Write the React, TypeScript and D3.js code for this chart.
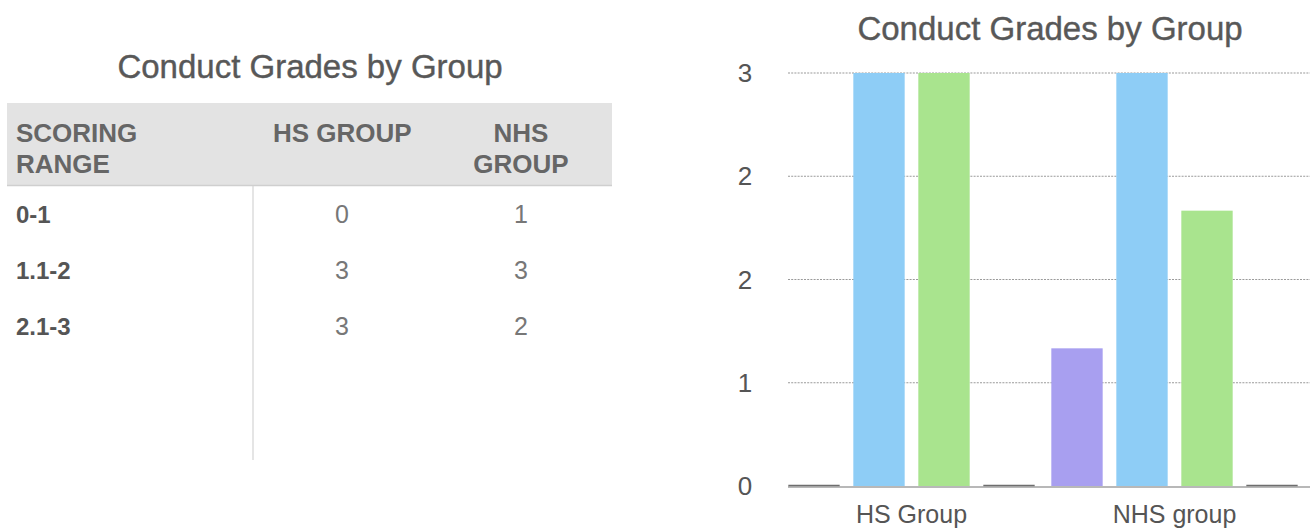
import React from "react";
import * as d3 from "d3";

const title = "Conduct Grades by Group";
const groups = ["HS Group", "NHS group"];
const seriesKeys = ["0-1", "1.1-2", "2.1-3", "blank"];
const hsValues = [0, 3, 3, 0];
const nhsValues = [1, 3, 2, 0];
const seriesColors = ["#a89ff0", "#8ecdf6", "#a9e48e", "#777777"];
const yTicks = [0, 0.75, 1.5, 2.25, 3];
const yTickLabels = ["0", "1", "2", "2", "3"];

const tableHeaders = [["SCORING", "RANGE"], ["HS GROUP"], ["NHS", "GROUP"]];
const tableRanges = ["0-1", "1.1-2", "2.1-3"];
const tableHS = [0, 3, 3];
const tableNHS = [1, 3, 2];

const FONT = "'Liberation Sans', Arial, Helvetica, sans-serif";

export default function App() {
  const W = 1314;
  const H = 529;

  const x0 = d3.scaleBand<string>().domain(groups).range([780, 1306]).paddingInner(0).paddingOuter(0);
  const x1 = d3
    .scaleBand<string>()
    .domain(seriesKeys)
    .range([0, x0.bandwidth()])
    .paddingInner(0.21)
    .paddingOuter(0.128);
  const y = d3.scaleLinear().domain([0, 3]).range([486, 73]);

  const data = groups.map((g, gi) => ({
    group: g,
    values: (gi === 0 ? hsValues : nhsValues).map((v, si) => ({ key: seriesKeys[si], value: v, color: seriesColors[si] })),
  }));

  const rowY = d3.scalePoint<string>().domain(tableRanges).range([223, 335]);
  const colX = [16, 342, 521];

  return (
    <svg
      width={W}
      height={H}
      style={{ position: "absolute", left: 0, top: 0, background: "#fff" }}
      fontFamily={FONT}
    >
      {/* ---------- Table ---------- */}
      <text x={310} y={78} textAnchor="middle" fontSize={33} fill="#585858" stroke="#585858" strokeWidth={0.4}>
        {title}
      </text>
      <rect x={7} y={103} width={605} height={82} fill="#e3e3e3" />
      <line x1={7} x2={612} y1={185.5} y2={185.5} stroke="#cfcfcf" strokeWidth={1.5} />
      <line x1={253} x2={253} y1={186} y2={460} stroke="#d4d4d4" strokeWidth={1.2} />
      <text fontSize={26} fontWeight="bold" fill="#666">
        <tspan x={16} y={142}>{tableHeaders[0][0]}</tspan>
        <tspan x={16} y={173}>{tableHeaders[0][1]}</tspan>
      </text>
      <text x={273} y={142} fontSize={26} fontWeight="bold" fill="#666">
        {tableHeaders[1][0]}
      </text>
      <text textAnchor="middle" fontSize={26} fontWeight="bold" fill="#666">
        <tspan x={521} y={142}>{tableHeaders[2][0]}</tspan>
        <tspan x={521} y={173}>{tableHeaders[2][1]}</tspan>
      </text>
      {tableRanges.map((r, i) => (
        <g key={r}>
          <text x={colX[0]} y={rowY(r)} fontSize={24} fontWeight="bold" fill="#555">
            {r}
          </text>
          <text x={colX[1]} y={rowY(r)} fontSize={25} textAnchor="middle" fill="#777">
            {tableHS[i]}
          </text>
          <text x={colX[2]} y={rowY(r)} fontSize={25} textAnchor="middle" fill="#777">
            {tableNHS[i]}
          </text>
        </g>
      ))}

      {/* ---------- Chart ---------- */}
      <text x={1050} y={40} textAnchor="middle" fontSize={33} fill="#585858" stroke="#585858" strokeWidth={0.4}>
        {title}
      </text>
      {yTicks.map((t, i) => (
        <g key={i}>
          {t !== 0 && (
            <line
              x1={788}
              x2={1310}
              y1={y(t)}
              y2={y(t)}
              stroke="#9a9a9a"
              strokeWidth={1.2}
              strokeDasharray="2,1.2"
            />
          )}
          <text x={745} y={y(t) + 9} textAnchor="middle" fontSize={26} fill="#555">
            {yTickLabels[i]}
          </text>
        </g>
      ))}
      <line x1={788} x2={1310} y1={y(0) + 1} y2={y(0) + 1} stroke="#a0a0a0" strokeWidth={1.5} />
      {data.map((d) => (
        <g key={d.group} transform={`translate(${x0(d.group)},0)`}>
          {d.values.map((v) =>
            v.value > 0 ? (
              <rect
                key={v.key}
                x={x1(v.key)}
                y={y(v.value)}
                width={x1.bandwidth()}
                height={y(0) - y(v.value)}
                fill={v.color}
              />
            ) : (
              <line
                key={v.key}
                x1={x1(v.key)!}
                x2={x1(v.key)! + x1.bandwidth()}
                y1={y(0) - 0.5}
                y2={y(0) - 0.5}
                stroke="#6e6e6e"
                strokeWidth={1.6}
              />
            )
          )}
          <text x={x0.bandwidth() / 2} y={523} textAnchor="middle" fontSize={25} fill="#555">
            {d.group}
          </text>
        </g>
      ))}
    </svg>
  );
}
